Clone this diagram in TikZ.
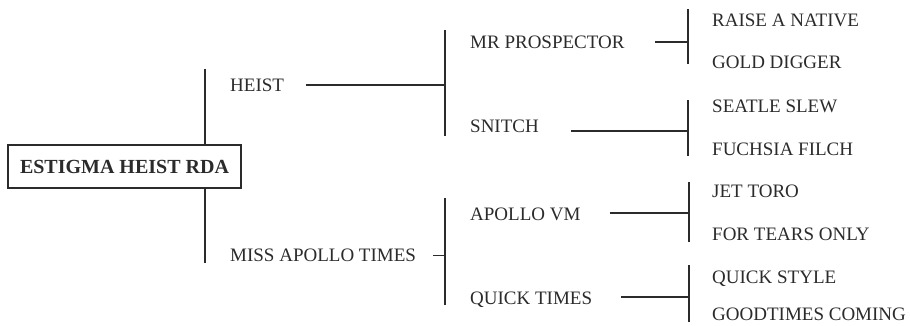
\documentclass[tikz,border=0pt]{standalone}
\usepackage{fontspec}
\setmainfont{Liberation Serif}
\definecolor{ink}{HTML}{2B2B2B}
\begin{document}
\begin{tikzpicture}[x=1pt,y=-1pt,
  lbl/.style={anchor=base west, inner sep=0pt, text=ink, font=\fontsize{19}{22}\selectfont},
  conn/.style={draw=ink, line width=1.1pt},
  rootbox/.style={draw=ink, line width=1.2pt, minimum width=233pt, minimum height=43pt, inner sep=0pt, text=ink, font=\fontsize{20}{23}\selectfont\bfseries}]
\useasboundingbox (0,0) rectangle (910,326);
% root
\node[rootbox] (root) at (124.5,166.5) {ESTIGMA HEIST RDA};
% level 2
\node[lbl] (heist) at (230,91.5) {HEIST};
\node[lbl] (miss) at (230,261.5) {MISS APOLLO TIMES};
% level 3
\node[lbl] (mrp) at (470,49) {MR PROSPECTOR};
\node[lbl] (snitch) at (470,133) {SNITCH};
\node[lbl] (apollo) at (470,220) {APOLLO VM};
\node[lbl] (qtimes) at (470,304) {QUICK TIMES};
% leaves
\node[lbl] (raise) at (712,27) {RAISE A NATIVE};
\node[lbl] (gold) at (712,69) {GOLD DIGGER};
\node[lbl] (seatle) at (712,113) {SEATLE SLEW};
\node[lbl] (fuchsia) at (712,156) {FUCHSIA FILCH};
\node[lbl] (jet) at (712,197) {JET TORO};
\node[lbl] (tears) at (712,240) {FOR TEARS ONLY};
\node[lbl] (qstyle) at (712,283) {QUICK STYLE};
\node[lbl] (goodtimes) at (712,320) {GOODTIMES COMING};
% root bars
\coordinate (rt) at (205,69);
\coordinate (rb) at (205,263);
\draw[conn] (rt) -- (rt |- root.north);
\draw[conn] (rb) -- (rb |- root.south);
% heist bar and connector
\coordinate (ha) at (445,30);
\coordinate (hb) at (445,136);
\draw[conn] (ha) -- (hb);
\coordinate (hs) at (306,85);
\draw[conn] (hs) -- (hs -| ha);
% miss bar and connector
\coordinate (ma) at (445,198);
\coordinate (mb) at (445,305);
\draw[conn] (ma) -- (mb);
\coordinate (ms) at (433,255.5);
\draw[conn] (ms) -- (ms -| ma);
% mr prospector
\coordinate (pa) at (688,9);
\coordinate (pb) at (688,64);
\draw[conn] (pa) -- (pb);
\coordinate (ps) at (655,42);
\draw[conn] (ps) -- (ps -| pa);
% snitch
\coordinate (sa) at (688,100);
\coordinate (sb) at (688,156);
\draw[conn] (sa) -- (sb);
\coordinate (ss) at (571,131);
\draw[conn] (ss) -- (ss -| sa);
% apollo vm
\coordinate (aa) at (689,182);
\coordinate (ab) at (689,242);
\draw[conn] (aa) -- (ab);
\coordinate (as) at (610,213);
\draw[conn] (as) -- (as -| aa);
% quick times
\coordinate (qa) at (689,265);
\coordinate (qb) at (689,322);
\draw[conn] (qa) -- (qb);
\coordinate (qs) at (621,297);
\draw[conn] (qs) -- (qs -| qa);
\end{tikzpicture}
\end{document}
